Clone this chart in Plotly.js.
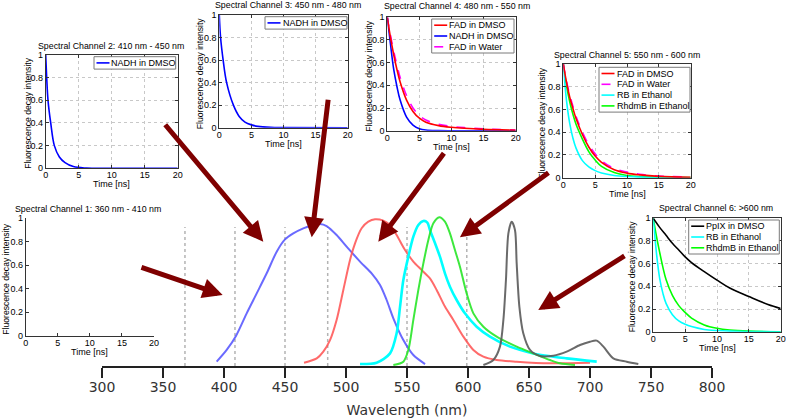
<!DOCTYPE html>
<html><head><meta charset="utf-8">
<script src="https://cdn.plot.ly/plotly-3.0.1.min.js"></script>
<style>html,body{margin:0;padding:0;background:#fff}#chart{width:787px;height:418px}</style>
</head><body><div id="chart"></div>
<script>
// ---------- Emission spectra (wavelength in nm, normalized intensity) ----------
const nadhWl  = [394.0,402.2,409.8,418.6,426.8,435.0,443.2,450.0,456.8,465.0,473.2,478.7,484.1,492.3,500.5,511.5,521.0,527.9,533.3,538.8,547.0,555.2,564.8];
const nadhInt = [0.029,0.107,0.200,0.351,0.484,0.618,0.762,0.844,0.884,0.918,0.940,0.947,0.933,0.873,0.796,0.696,0.618,0.540,0.440,0.318,0.173,0.073,0.013];
const fadWl   = [465.6,476.0,481.4,486.9,492.3,497.8,503.3,507.4,512.8,518.3,523.8,530.6,536.1,541.5,548.4,555.2,562.0,568.8,574.3,581.1,588.0,596.2,604.4,612.6,623.5,639.9,667.2,700.0];
const fadInt  = [0.022,0.051,0.096,0.173,0.307,0.507,0.707,0.818,0.918,0.962,0.978,0.969,0.940,0.873,0.773,0.696,0.640,0.584,0.507,0.396,0.307,0.196,0.107,0.062,0.040,0.029,0.018,0.022];
const rbWl    = [511.5,525.1,536.1,541.5,544.3,547.0,551.1,555.2,559.3,563.4,566.7,568.8,573.0,577.0,581.1,585.2,590.7,597.5,607.1,618.0,634.4,653.5,680.9,705.5];
const rbInt   = [0.013,0.022,0.084,0.218,0.396,0.573,0.729,0.862,0.940,0.967,0.956,0.907,0.818,0.729,0.618,0.529,0.440,0.351,0.262,0.196,0.129,0.084,0.051,0.029];
const rhdmbWl = [538.8,547.0,551.1,555.2,559.3,563.4,567.5,571.6,576.5,581.1,585.2,589.3,593.4,598.9,604.4,612.6,623.5,639.9,653.5,667.2,675.4,687.7];
const rhdmbInt= [0.007,0.029,0.107,0.307,0.507,0.684,0.840,0.951,0.991,0.962,0.884,0.773,0.662,0.484,0.351,0.262,0.196,0.129,0.084,0.040,0.018,0.007];
const ppixWl  = [612.6,620.8,626.2,629.0,631.1,633.1,635.8,638.5,639.9,642.1,645.3,650.8,659.0,669.9,680.9,691.8,700.0,705.5,711.0,719.1,730.1,739.6];
const ppixInt = [0.007,0.040,0.129,0.307,0.573,0.884,0.962,0.907,0.684,0.396,0.218,0.107,0.067,0.069,0.096,0.140,0.162,0.169,0.129,0.051,0.029,0.013];
const channelBounds = [368, 409, 450, 485, 550, 599];
const boundTop = 0.927;
const wlTicks = [300,350,400,450,500,550,600,650,700,750,800];

// ---------- Fluorescence decay curves (time in ns, normalized intensity) ----------
const ch2T    = [0,0.15,0.35,0.76,1.31,2.07,2.93,4.19,6.2,10,20];
const ch2Nadh = [1,0.80,0.60,0.40,0.20,0.10,0.05,0.015,0.002,0,0];
const ch3T    = [0,0.2,0.6,1.14,2.2,3.1,4,5,6,8,10,20];
const ch3Nadh = [1,0.80,0.60,0.40,0.20,0.10,0.05,0.025,0.012,0.003,0.001,0];
const tGrid   = [0,0.5,1,1.5,2,3,4,5,6,8,10,12,15,20];
const ch4FadDmso  = [1,0.82,0.67,0.54,0.43,0.27,0.17,0.11,0.075,0.045,0.030,0.021,0.012,0.004];
const ch4Nadh     = [1,0.76,0.54,0.39,0.27,0.12,0.05,0.018,0.006,0.001,0,0,0,0];
const ch4FadWater = [1,0.84,0.70,0.58,0.47,0.31,0.20,0.135,0.095,0.056,0.038,0.027,0.016,0.006];
const ch5FadDmso  = [1,0.84,0.71,0.61,0.52,0.38,0.27,0.19,0.135,0.07,0.04,0.025,0.012,0.004];
const ch5FadWater = [1,0.85,0.73,0.63,0.54,0.40,0.29,0.21,0.15,0.08,0.05,0.03,0.015,0.005];
const ch5Rb       = [1,0.68,0.48,0.35,0.26,0.15,0.095,0.062,0.042,0.02,0.01,0.005,0.002,0];
const ch5Rhdmb    = [1,0.81,0.67,0.56,0.47,0.34,0.23,0.155,0.10,0.045,0.02,0.01,0.004,0.001];
const ch6T        = [0,1,2,3,4,5,6,8,10,12,15,18,20];
const ch6Ppix     = [1,0.92,0.85,0.78,0.72,0.66,0.61,0.53,0.455,0.385,0.31,0.24,0.205];
const ch6Rb       = [1,0.69,0.47,0.34,0.25,0.15,0.095,0.065,0.045,0.02,0.01,0.005,0.002,0];
const ch6Rhdmb    = [1,0.84,0.70,0.57,0.46,0.32,0.23,0.17,0.12,0.06,0.03,0.015,0.005,0];
const channelTitles = [
  'Spectral Channel 1: 360 nm - 410 nm',
  'Spectral Channel 2: 410 nm - 450 nm',
  'Spectral Channel 3: 450 nm - 480 nm',
  'Spectral Channel 4: 480 nm - 550 nm',
  'Spectral Channel 5: 550 nm - 600 nm',
  'Spectral Channel 6: >600 nm'
];

// ---------- Layout helpers (pixel geometry of the 787x418 canvas) ----------
const W = 787, H = 418;
const px = v => v / W;
const py = v => 1 - v / H;
const insetFont = 'Liberation Sans, Arial, Helvetica, sans-serif';
const mainFont = 'DejaVu Sans, Verdana, sans-serif';

const COL = {blue:'#0000ff', red:'#ff0000', mag:'#ff00ff', cyan:'#00ffff', green:'#00ff00', black:'#000000'};

// panels: axis index, pixel box, title centre, y-title offset, box, legend box
const panels = [
  {n:2, L:25.7,  R:154,   T:218.3, B:335.7, tx:88.3,  ty:208.5, yt:20.5, box:false},
  {n:3, L:45.7,  R:177.7, T:55,    B:168.3, tx:110.8, ty:45.7,  yt:18,   box:true, lg:{R:175.7, T:56.7,  w:81.7}},
  {n:4, L:219.3, R:347.7, T:15,    B:127.7, tx:288.3, ty:5,     yt:19,   box:true, lg:{R:347,   T:16.7,  w:82}},
  {n:5, L:387.3, R:515.7, T:17.3,  B:130.7, tx:457,   ty:6,     yt:19,   box:true, lg:{R:514,   T:19,    w:82.3}},
  {n:6, L:563.3, R:690.7, T:64,    B:177.7, tx:626.7, ty:55,    yt:21,   box:true, lg:{R:690,   T:67.3,  w:91}},
  {n:7, L:653.3, R:780.7, T:218.3, B:331.7, tx:715.5, ty:208.3, yt:21.5, box:true, lg:{R:779.3, T:220,   w:90.6}}
];

// ---------- Traces ----------
const traces = [];
const bx = [], by = [];
channelBounds.forEach(b => { bx.push(b, b, null); by.push(0, boundTop, null); });
traces.push({x:bx, y:by, mode:'lines', line:{color:'#b4b4b4', width:1.5, dash:'dot'}, hoverinfo:'skip', name:'Channel limits'});
const spec = (x, y, color, name, w) => ({x, y, mode:'lines', name, line:{color, width:w||2, shape:'spline', smoothing:0.8}});
traces.push(spec(nadhWl, nadhInt, 'rgba(80,80,255,0.85)', 'NADH'));
traces.push(spec(fadWl, fadInt, 'rgba(255,80,80,0.85)', 'FAD'));
traces.push(spec(rbWl, rbInt, '#00ffff', 'RB', 2.6));
traces.push(spec(rhdmbWl, rhdmbInt, 'rgba(40,230,40,0.9)', 'RhdmB'));
traces.push(spec(ppixWl, ppixInt, 'rgba(90,90,90,0.9)', 'PpIX'));

const panelSeries = {
  2: [],
  3: [{t:ch2T, v:ch2Nadh, c:COL.blue, name:'NADH in DMSO'}],
  4: [{t:ch3T, v:ch3Nadh, c:COL.blue, name:'NADH in DMSO'}],
  5: [{t:tGrid, v:ch4FadDmso, c:COL.red, name:'FAD in DMSO'},
      {t:tGrid, v:ch4Nadh, c:COL.blue, name:'NADH in DMSO'},
      {t:tGrid, v:ch4FadWater, c:COL.mag, name:'FAD in Water', dash:'dash'}],
  6: [{t:tGrid, v:ch5FadDmso, c:COL.red, name:'FAD in DMSO'},
      {t:tGrid, v:ch5FadWater, c:COL.mag, name:'FAD in Water', dash:'dash'},
      {t:tGrid, v:ch5Rb, c:COL.cyan, name:'RB in Ethanol'},
      {t:tGrid, v:ch5Rhdmb, c:COL.green, name:'RhdmB in Ethanol'}],
  7: [{t:ch6T, v:ch6Ppix, c:COL.black, name:'PpIX in DMSO'},
      {t:tGrid, v:ch6Rb, c:COL.cyan, name:'RB in Ethanol'},
      {t:tGrid, v:ch6Rhdmb, c:COL.green, name:'RhdmB in Ethanol'}]
};
Object.keys(panelSeries).forEach(k => {
  const list = panelSeries[k];
  if (!list.length) traces.push({x:[], y:[], xaxis:'x'+k, yaxis:'y'+k, mode:'lines', showlegend:false});
  list.slice().reverse().forEach(s => traces.push({
    x:s.t, y:s.v, xaxis:'x'+k, yaxis:'y'+k, mode:'lines', name:s.name,
    line:{color:s.c, width:1.6, dash:s.dash||'solid', shape:'spline', smoothing:1}
  }));
});

// ---------- Layout ----------
const layout = {
  width:W, height:H, margin:{l:0,r:0,t:0,b:0}, showlegend:false,
  paper_bgcolor:'#ffffff', plot_bgcolor:'rgba(0,0,0,0)',
  xaxis:{domain:[px(102), px(712)], anchor:'y', range:[300,800], tickvals:wlTicks,
         ticks:'outside', ticklen:10, tickwidth:2, tickcolor:'#222', showline:true, linewidth:2, linecolor:'#222',
         showgrid:false, zeroline:false, tickfont:{family:mainFont, size:14, color:'#333'}, ticklabelstandoff:-3,
         title:{text:'Wavelength (nm)', font:{family:mainFont, size:14, color:'#333'}}},
  yaxis:{domain:[py(366), py(216)], anchor:'x', range:[0,1], visible:false},
  annotations:[], shapes:[]
};

panels.forEach(p => {
  const ax = {
    domain:[px(p.L), px(p.R)], anchor:'y'+p.n, range:[0,20], tickvals:[0,5,10,15,20],
    ticks:'inside', ticklen:3, tickcolor:'#333', showline:true, linecolor:'#333', linewidth:1,
    mirror: p.box ? 'allticks' : false, showgrid:p.box, gridcolor:'#c8c8c8', griddash:'dot', gridwidth:1,
    zeroline:false, tickfont:{family:insetFont, size:9, color:'#000'}, ticklabelstandoff:-2
  };
  const ay = Object.assign({}, ax, {domain:[py(p.B), py(p.T)], anchor:'x'+p.n, range:[0,1],
    tickvals:[0,0.2,0.4,0.6,0.8,1], ticktext:['0','0.2','0.4','0.6','0.8','1'], ticklabelstandoff:0});
  layout['xaxis'+p.n] = ax;
  layout['yaxis'+p.n] = ay;
  layout.annotations.push(
    {xref:'paper', yref:'paper', x:px(p.tx), y:py(p.ty), xanchor:'center', yanchor:'middle', showarrow:false,
     text:channelTitles[p.n-2], font:{family:insetFont, size:8.8, color:'#000'}, borderpad:0},
    {xref:'paper', yref:'paper', x:px((p.L+p.R)/2), y:py(p.B+16), xanchor:'center', yanchor:'middle', showarrow:false,
     text:'Time [ns]', font:{family:insetFont, size:9, color:'#000'}, borderpad:0},
    {xref:'paper', yref:'paper', x:px(p.L-p.yt), y:py((p.T+p.B)/2 + 1.5), xanchor:'center', yanchor:'middle', showarrow:false,
     textangle:-90, text:'Fluorescence decay intensity', font:{family:insetFont, size:8.6, color:'#000'}, borderpad:0}
  );
  const list = panelSeries[p.n];
  if (p.lg && list.length) {
    const rowH = 10.8, Lx = p.lg.R - p.lg.w, h = list.length*rowH + 1.6;
    layout.shapes.push({type:'rect', xref:'paper', yref:'paper', x0:px(Lx), x1:px(p.lg.R), y0:py(p.lg.T+h), y1:py(p.lg.T),
      fillcolor:'#ffffff', line:{color:'#7a7a7a', width:1}, layer:'above'});
    list.forEach((s, i) => {
      const cy = p.lg.T + 0.8 + rowH*(i+0.5);
      layout.shapes.push({type:'line', xref:'paper', yref:'paper', x0:px(Lx+2.5), x1:px(Lx+15.5), y0:py(cy), y1:py(cy),
        line:{color:s.c, width:1.6, dash:s.dash||'solid'}, layer:'above'});
      layout.annotations.push({xref:'paper', yref:'paper', x:px(Lx+16.5), y:py(cy), xanchor:'left', yanchor:'middle',
        showarrow:false, text:s.name, font:{family:insetFont, size:9, color:'#000'}, borderpad:0});
    });
  }
});

// arrows from each inset to its spectral region: tip in data units, tail offset in px
const arrows = [
  {x:398.9, y:0.473, ax:-82.7, ay:-28.3},
  {x:432.2, y:0.829, ax:-99.3, ay:-118.4},
  {x:471.9, y:0.858, ax:16.6,  ay:-139},
  {x:526.5, y:0.829, ax:66.7,  ay:-90},
  {x:593.4, y:0.858, ax:90,    ay:-65.6},
  {x:657.6, y:0.373, ax:87.7,  ay:-55}
];
arrows.forEach(a => layout.annotations.push({
  xref:'x', yref:'y', x:a.x, y:a.y, ax:a.ax, ay:a.ay, text:'', showarrow:true,
  arrowhead:2, arrowsize:0.8, arrowwidth:5, arrowcolor:'#7f0000', standoff:0
}));

Plotly.newPlot('chart', traces, layout, {staticPlot:true, displayModeBar:false});
</script></body></html>
